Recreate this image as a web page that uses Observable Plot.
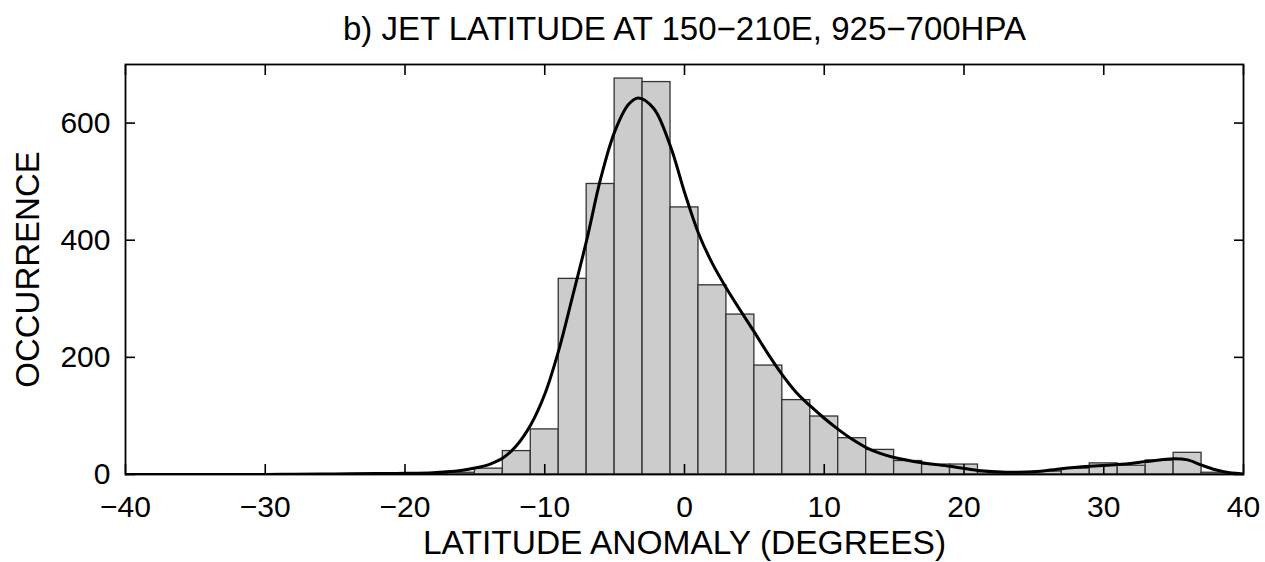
<!DOCTYPE html>
<html><head><meta charset="utf-8">
<script src="https://cdn.jsdelivr.net/npm/d3@7"></script>
<script src="https://cdn.jsdelivr.net/npm/@observablehq/plot@0.6"></script>
<style>body{margin:0;background:#fff} svg{display:block}</style>
</head><body><div id="chart"></div>
<script>
const title = "b) JET LATITUDE AT 150\u2212210E, 925\u2212700HPA";
const xLabel = "LATITUDE ANOMALY (DEGREES)";
const yLabel = "OCCURRENCE";

// histogram bins (centre, count), bin width 2 degrees
const binCenters = [-18, -16, -14, -12, -10, -8, -6, -4, -2, 0, 2, 4, 6, 8, 10, 12, 14, 16, 18, 20, 22, 24, 26, 28, 30, 32, 34, 36, 38];
const binCounts  = [1, 3, 10, 40, 77, 334, 496, 676, 670, 456, 323, 273, 186, 127, 99, 62, 42, 23, 17, 17, 4, 4, 5, 10, 19, 15, 24, 37, 3];
const binWidth = 2;

// fitted curve
const fitX = [-40, -30, -28, -25, -22, -20, -18, -17, -16, -15, -14, -13, -12, -11, -10, -9, -8, -7, -6, -5, -4, -3.3, -2.2, -1, 0, 1, 2, 3, 4, 5, 6, 7, 8, 9, 10, 11, 12, 13, 14, 15, 17, 19, 21, 23, 25, 27, 29, 31, 33, 35, 36, 37, 38, 39, 40];
const fitY = [0, 0, 0.5, 1, 1.5, 2, 3, 4.5, 7, 11, 17, 28, 50, 85, 137, 212, 305, 400, 505, 585, 632, 643, 625, 560, 482, 412, 360, 318, 280, 243, 205, 170, 140, 117, 96, 77, 60, 46, 36, 29, 20, 14, 7, 4, 4.5, 10, 14, 17, 22, 27, 25, 16, 8, 3, 1];

const xTicks = [-40, -30, -20, -10, 0, 10, 20, 30, 40];
const yTicks = [0, 200, 400, 600];

const bins = binCenters.map((c, i) => ({x1: c - binWidth / 2, x2: c + binWidth / 2, y: binCounts[i]}));
const fit = fitX.map((x, i) => ({x, y: fitY[i]}));

const font = "Liberation Sans, Arial, Helvetica, sans-serif";

const chart = Plot.plot({
  width: 1265,
  height: 562,
  marginLeft: 125,
  marginRight: 22,
  marginTop: 64,
  marginBottom: 88,
  style: {fontFamily: font, color: "#000", background: "#fff"},
  x: {domain: [-40, 40]},
  y: {domain: [0, 700]},
  marks: [
    Plot.rectY(bins, {x1: "x1", x2: "x2", y: "y", fill: "#cccccc", stroke: "#333", strokeWidth: 1.3, clip: true}),
    Plot.line(fit, {x: "x", y: "y", curve: "catmull-rom", stroke: "#000", strokeWidth: 3, clip: true}),
    Plot.frame({stroke: "#000", strokeWidth: 1.8}),
    Plot.axisX({anchor: "bottom", ticks: xTicks, tickSize: -10, tickPadding: 31, fontSize: 30, label: null, strokeWidth: 1.6}),
    Plot.axisX({anchor: "top", ticks: xTicks, tickSize: -10, tickFormat: () => "", label: null, strokeWidth: 1.6}),
    Plot.axisY({anchor: "left", ticks: yTicks, tickSize: -10, tickPadding: 25, fontSize: 30, label: null, strokeWidth: 1.6}),
    Plot.axisY({anchor: "right", ticks: yTicks, tickSize: -10, tickFormat: () => "", label: null, strokeWidth: 1.6}),
    Plot.text([title], {text: d => d, frameAnchor: "top", textAnchor: "middle", lineAnchor: "middle", dy: -35, fontSize: 33, fill: "#000"}),
    Plot.text([xLabel], {text: d => d, frameAnchor: "bottom", textAnchor: "middle", lineAnchor: "middle", dy: 69, fontSize: 33.5, fill: "#000"}),
    Plot.text([yLabel], {text: d => d, frameAnchor: "left", textAnchor: "middle", lineAnchor: "middle", rotate: -90, dx: -97, fontSize: 33, fill: "#000"})
  ]
});
document.getElementById("chart").appendChild(chart);
</script>
</body></html>
